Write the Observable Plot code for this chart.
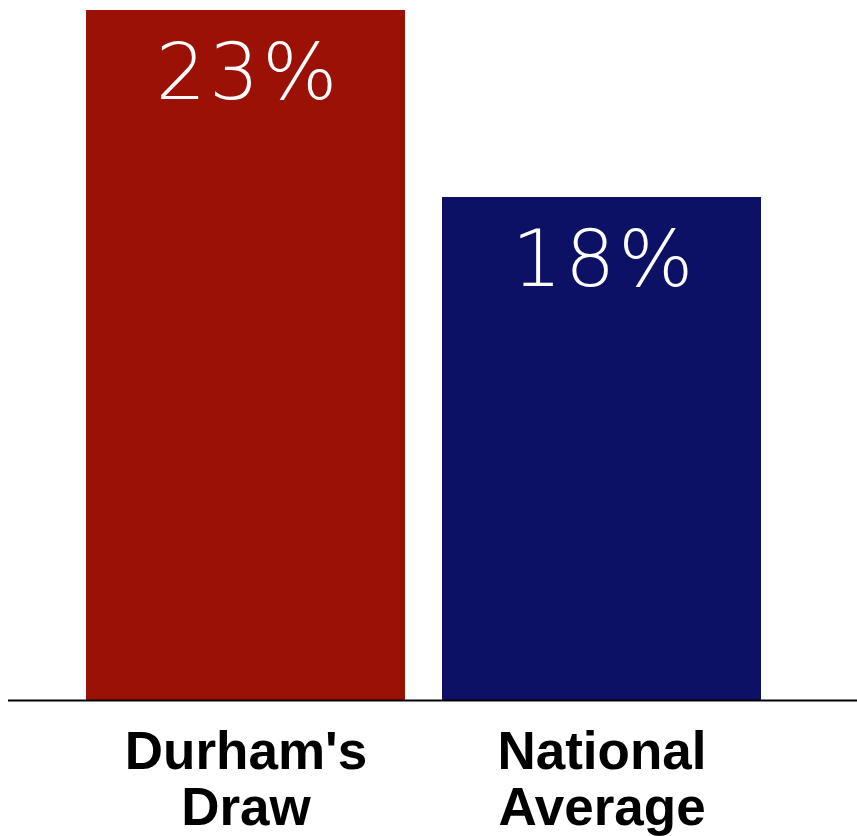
<!DOCTYPE html>
<html>
<head>
<meta charset="utf-8">
<script src="https://cdn.jsdelivr.net/npm/d3@7"></script>
<script src="https://cdn.jsdelivr.net/npm/@observablehq/plot@0.6"></script>
<style>
  html, body { margin: 0; padding: 0; background: #fff; }
</style>
</head>
<body>
<div id="chart"></div>
<script>
const categories = ["Durham's\nDraw", "National\nAverage"];
const values = [23, 18];
const valueLabels = ["23%", "18%"];
const colors = ["#9C1106", "#0D1166"];

const data = categories.map((c, i) => ({category: c, value: values[i], label: valueLabels[i], color: colors[i]}));
const yMin = 4.55;

const chart = Plot.plot({
  width: 857,
  height: 836,
  marginTop: 10,
  marginBottom: 136,
  marginLeft: 8,
  marginRight: 0,
  x: {domain: categories, range: [68, 779], paddingInner: 0.104, paddingOuter: 0.05, axis: null},
  y: {domain: [yMin, 23], axis: null},
  color: {type: "identity"},
  marks: [
    Plot.barY(data, {x: "category", y1: () => yMin, y2: "value", fill: "color"}),
    Plot.ruleY([yMin], {stroke: "#000", strokeWidth: 2}),
    Plot.text(data, {x: "category", y: "value", text: "label", fill: "white", fontSize: 79, fontWeight: 200, fontFamily: "DejaVu Sans", dy: 63, dx: 2, lineAnchor: "middle"}),
    Plot.text(data, {x: "category", y: () => yMin, text: "category", fill: "black", fontSize: 53, fontWeight: "bold", fontFamily: "Liberation Sans, Arial, sans-serif", lineAnchor: "top", lineHeight: 1.07, dy: 28})
  ]
});
d3.select(chart).selectAll('g[fill="white"] text').style("letter-spacing", "3px");
document.getElementById("chart").appendChild(chart);
</script>
</body>
</html>
